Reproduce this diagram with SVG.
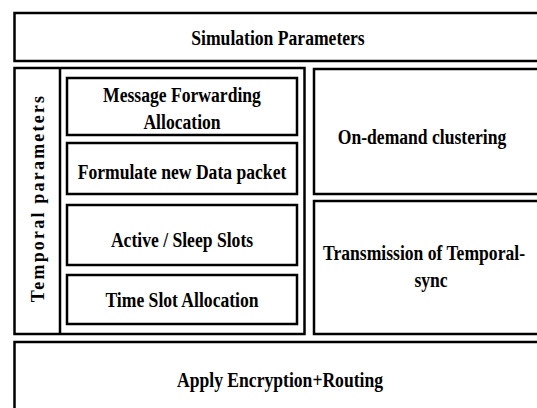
<svg xmlns="http://www.w3.org/2000/svg" width="537" height="408" viewBox="0 0 537 408">
<style>
.box{fill:#fff;stroke:#000;stroke-width:2.5}
.t{font-family:"Liberation Serif","Times New Roman",serif;font-weight:bold;font-size:20px;fill:#000;text-anchor:middle}
.v{font-family:"Liberation Serif","Times New Roman",serif;font-weight:bold;font-size:18px;fill:#000;text-anchor:middle;letter-spacing:2.2px}
</style>
<rect x="0" y="0" width="537" height="408" fill="#fff"/>
<g id="simulation-parameters">
<rect class="box" x="14.5" y="13" width="530" height="48"/>
<text class="t" transform="translate(278 44.5) scale(0.88 1)">Simulation Parameters</text>
</g>
<g id="temporal-parameters">
<rect class="box" x="14.5" y="68" width="290" height="266"/>
<line x1="60" y1="68" x2="60" y2="334" stroke="#000" stroke-width="2.5"/>
<text class="v" transform="translate(44 198) rotate(-90)">Temporal parameters</text>
</g>
<g id="message-forwarding">
<rect class="box" x="67" y="78" width="230" height="57"/>
<text class="t" transform="translate(182 101.5) scale(0.88 1)">Message Forwarding</text>
<text class="t" transform="translate(182 129) scale(0.88 1)">Allocation</text>
</g>
<g id="formulate-packet">
<rect class="box" x="67" y="143" width="230" height="51"/>
<text class="t" transform="translate(182 178.5) scale(0.88 1)">Formulate new Data packet</text>
</g>
<g id="active-sleep">
<rect class="box" x="67" y="205" width="230" height="60"/>
<text class="t" transform="translate(182 246.5) scale(0.88 1)">Active / Sleep Slots</text>
</g>
<g id="time-slot">
<rect class="box" x="67" y="275" width="230" height="49"/>
<text class="t" transform="translate(182 306.5) scale(0.88 1)">Time Slot Allocation</text>
</g>
<g id="on-demand">
<rect class="box" x="314" y="69" width="230" height="125"/>
<text class="t" transform="translate(422 143.5) scale(0.88 1)">On-demand clustering</text>
</g>
<g id="transmission">
<rect class="box" x="314" y="201" width="230" height="133"/>
<text class="t" transform="translate(424 259.5) scale(0.88 1)">Transmission of Temporal-</text>
<text class="t" transform="translate(431 286.5) scale(0.88 1)">sync</text>
</g>
<g id="apply-encryption">
<rect class="box" x="14.5" y="342" width="530" height="80"/>
<text class="t" transform="translate(280 386.5) scale(0.88 1)">Apply Encryption+Routing</text>
</g>
<g id="connectors"></g>
</svg>
